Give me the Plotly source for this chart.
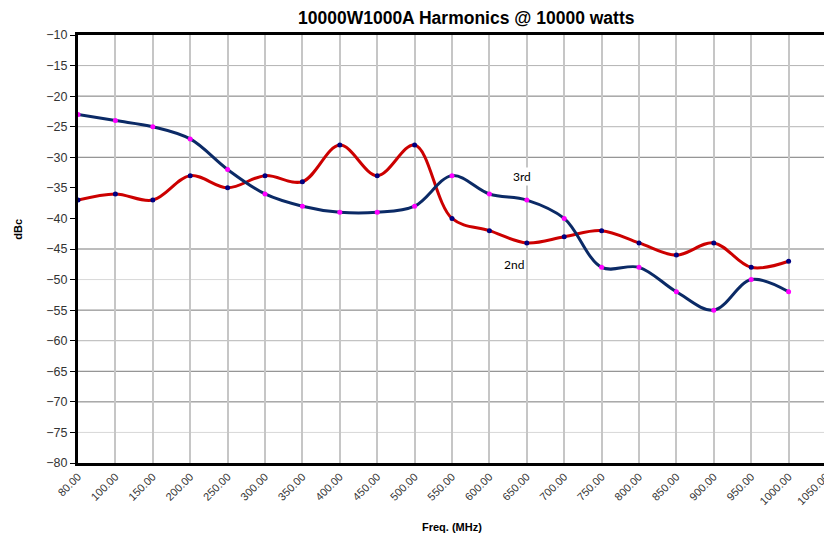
import plotly.graph_objects as go

freq_labels = ["80.00", "100.00", "150.00", "200.00", "250.00", "300.00", "350.00",
               "400.00", "450.00", "500.00", "550.00", "600.00", "650.00", "700.00",
               "750.00", "800.00", "850.00", "900.00", "950.00", "1000.00", "1050.00"]

# series values (dBc) for categories 80 .. 1000
navy_vals = [-23, -24, -25, -27, -32, -36, -38, -39, -39, -38,
             -33, -36, -37, -40, -48, -48, -52, -55, -50, -52]
red_vals = [-37, -36, -37, -33, -35, -33, -34, -28, -33, -28,
            -40, -42, -44, -43, -42, -44, -46, -44, -48, -47]

y_ticks = list(range(-80, -9, 5))

x_idx = list(range(len(freq_labels)))
n = len(red_vals)

fig = go.Figure()

# horizontal gridlines (as seen in the reference)
grid_dark = [-20, -30, -45, -55, -65, -70]
grid_mid = [-15, -25, -60]
grid_light = [-50, -75]
for vals, col in ((grid_light, "#d8d8d8"), (grid_mid, "#b4b4b4"), (grid_dark, "#7a7a7a")):
    for v in vals:
        fig.add_shape(type="line", xref="paper", x0=0, x1=1, yref="y", y0=v, y1=v,
                      line=dict(color=col, width=1), layer="below")

fig.add_trace(go.Scatter(
    x=x_idx[:n], y=red_vals, mode="lines+markers", line_shape="spline",
    line=dict(color="#CC0000", width=3, smoothing=1.0),
    marker=dict(color="#000080", size=5, line=dict(width=0)),
    showlegend=False, hoverinfo="skip"))

fig.add_trace(go.Scatter(
    x=x_idx[:n], y=navy_vals, mode="lines+markers", line_shape="spline",
    line=dict(color="#0B2A66", width=3, smoothing=1.0),
    marker=dict(color="#FF00FF", size=5, line=dict(width=0)),
    showlegend=False, hoverinfo="skip"))

fig.add_annotation(x=11.86, y=-33.1, xref="x", yref="y", text="3rd", showarrow=False,
                   font=dict(family="Lato", size=12, color="#000"), bgcolor="white")
fig.add_annotation(x=11.65, y=-47.6, xref="x", yref="y", text="2nd", showarrow=False,
                   font=dict(family="Lato", size=12, color="#000"), bgcolor="white")

fig.add_annotation(x=0.519, y=1, xref="paper", yref="paper", yanchor="bottom", yshift=6,
                   text="<b>10000W1000A Harmonics @ 10000 watts</b>", showarrow=False,
                   borderpad=0,
                   font=dict(family="Liberation Sans", size=17.5, color="#000"))
fig.add_annotation(x=0.5, y=0, xref="paper", yref="paper", yanchor="middle", yshift=-64,
                   text="<b>Freq. (MHz)</b>", showarrow=False,
                   font=dict(family="Liberation Sans", size=11, color="#000"))
fig.add_annotation(x=0, y=0.545, xref="paper", yref="paper", xanchor="center", xshift=-60,
                   text="<b>dBc</b>", textangle=-90, showarrow=False,
                   font=dict(family="Liberation Sans", size=11, color="#000"))

fig.update_xaxes(
    range=[0, len(freq_labels) - 1], tickmode="array", tickvals=x_idx, ticktext=freq_labels,
    tickangle=-45, showgrid=True, gridcolor="#c6c6c6", gridwidth=2,
    showline=True, linecolor="#000", linewidth=3, mirror=True,
    ticks="", tickfont=dict(family="Liberation Sans", size=11, color="#333"),
    zeroline=False, fixedrange=True, automargin=False)
fig.update_yaxes(
    range=[-80, -10], tickmode="array", tickvals=y_ticks,
    showgrid=False, showline=True, linecolor="#000", linewidth=3, mirror=True,
    ticks="outside", ticklen=5, tickcolor="#000", tickwidth=1,
    tickfont=dict(family="Liberation Sans", size=12.5, color="#333"),
    zeroline=False, fixedrange=True, automargin=False)

# page body adds an 8px offset; size the figure so the plot sits where the reference has it
fig.update_layout(
    width=824, height=535, paper_bgcolor="white", plot_bgcolor="white",
    margin=dict(l=70, r=6, t=27, b=80), showlegend=False)

fig.write_html("out.html")
